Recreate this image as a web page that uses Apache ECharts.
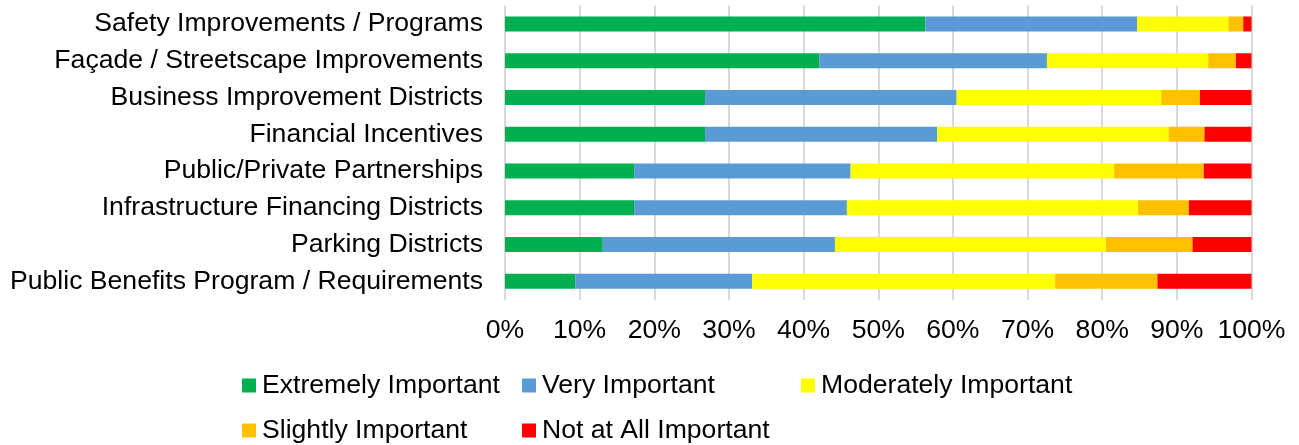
<!DOCTYPE html>
<html>
<head>
<meta charset="utf-8">
<script src="https://cdn.jsdelivr.net/npm/echarts@6/dist/echarts.min.js"></script>
<style>
html,body{margin:0;padding:0;background:#fff;}
#chart{width:1299px;height:445px;}
</style>
</head>
<body>
<div id="chart"></div>
<script>
const categories = [
  "Safety Improvements / Programs",
  "Façade / Streetscape Improvements",
  "Business Improvement Districts",
  "Financial Incentives",
  "Public/Private Partnerships",
  "Infrastructure Financing Districts",
  "Parking Districts",
  "Public Benefits Program / Requirements"
];
const seriesNames = ["Extremely Important", "Very Important", "Moderately Important", "Slightly Important", "Not at All Important"];
const extremely = [56.3, 42.1, 26.8, 26.8, 17.3, 17.3, 13.1, 9.4];
const very      = [28.4, 30.5, 33.7, 31.1, 29.0, 28.5, 31.1, 23.7];
const moderate  = [12.2, 21.6, 27.4, 31.0, 35.3, 39.0, 36.3, 40.6];
const slightly  = [2.0, 3.7, 5.2, 4.8, 12.0, 6.8, 11.6, 13.7];
const notAtAll  = [1.1, 2.1, 6.9, 6.3, 6.4, 8.4, 7.9, 12.6];
const tickLabels = ["0%","10%","20%","30%","40%","50%","60%","70%","80%","90%","100%"];

const colors = ["#00B050", "#5B9BD5", "#FFFF00", "#FFC000", "#FF0000"];
const allData = [extremely, very, moderate, slightly, notAtAll];
const FONT = "'Liberation Sans', Arial, sans-serif";
const FS = 26.6;

const legendPos = [
  {left: 242, top: 372},
  {left: 522, top: 372},
  {left: 801, top: 372},
  {left: 242, top: 417},
  {left: 522, top: 417}
];

const chart = echarts.init(document.getElementById('chart'), null, {renderer: 'canvas'});
chart.setOption({
  animation: false,
  color: colors,
  grid: {left: 505, right: 47.5, top: 5.6, height: 294.1, containLabel: false},
  xAxis: {
    type: 'value', min: 0, max: 100, interval: 10,
    axisLine: {show: false}, axisTick: {show: false},
    splitLine: {show: true, lineStyle: {color: '#D9D9D9', width: 2}},
    axisLabel: {
      color: '#000', fontSize: FS, fontFamily: FONT, margin: 17,
      formatter: function (v) { return tickLabels[Math.round(v / 10)]; }
    }
  },
  yAxis: {
    type: 'category', data: categories, inverse: true,
    axisLine: {show: false}, axisTick: {show: false},
    axisLabel: {color: '#000', fontSize: FS, fontFamily: FONT, margin: 22}
  },
  legend: seriesNames.map((n, i) => ({
    data: [n], left: legendPos[i].left, top: legendPos[i].top,
    itemWidth: 14, itemHeight: 14, itemGap: 0, padding: 0,
    icon: 'rect',
    textStyle: {color: '#000', fontSize: FS, fontFamily: FONT, padding: [0, 0, 0, 1]}
  })),
  series: seriesNames.map((n, i) => ({
    name: n, type: 'bar', stack: 'total', data: allData[i],
    barWidth: 15, itemStyle: {color: colors[i]}
  }))
});
</script>
</body>
</html>
